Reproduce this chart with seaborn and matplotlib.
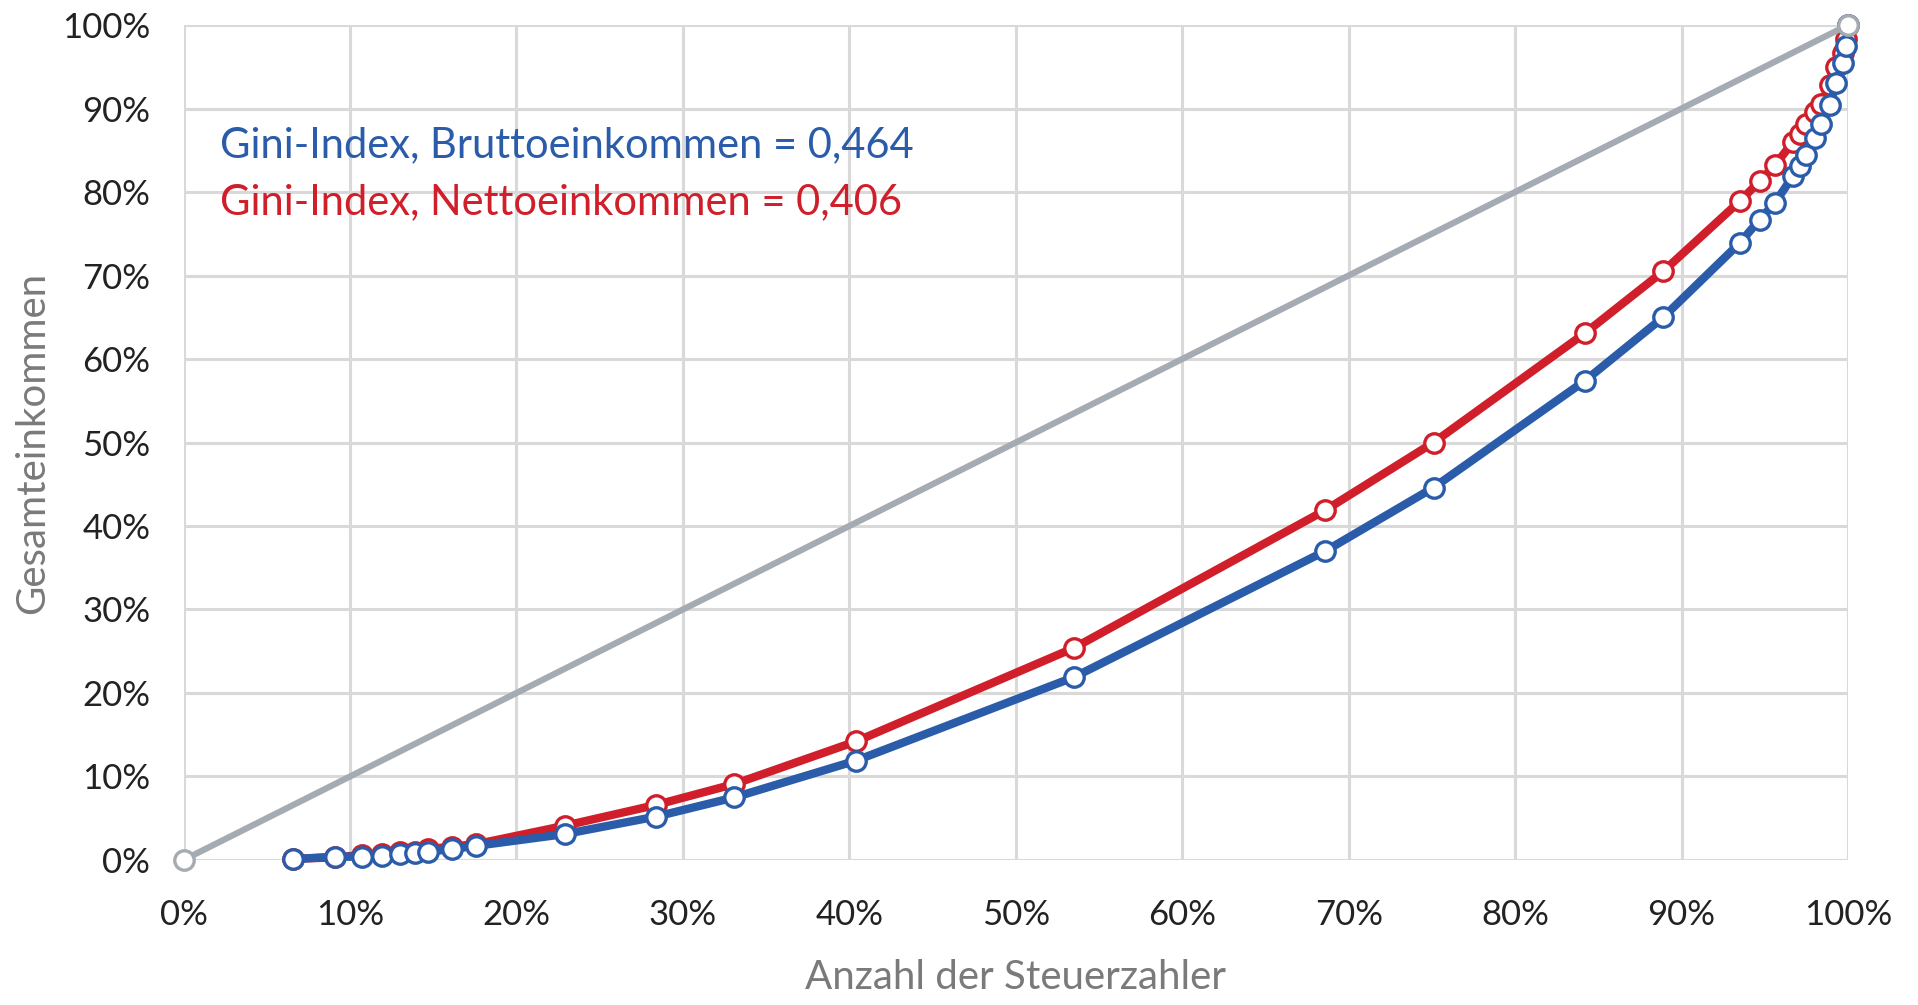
import numpy as np
import seaborn as sns
import pandas as pd
import matplotlib.pyplot as plt
import matplotlib.ticker as ticker

# Lorenzkurve: Anteil der Steuerzahler (%) und kumulierter Einkommensanteil (%)
steuerzahler = [6.6, 9.1, 10.7, 11.9, 13.0, 13.9, 14.7, 16.1, 17.6, 22.9, 28.4, 33.1,
                40.4, 53.5, 68.6, 75.1, 84.2, 88.9, 93.5, 94.7, 95.6, 96.7, 97.1, 97.5,
                98.0, 98.4, 98.9, 99.3, 99.7, 99.9, 100.0]
brutto = [0.1, 0.4, 0.4, 0.5, 0.7, 0.8, 1.0, 1.3, 1.7, 3.1, 5.2, 7.5,
          11.9, 21.9, 37.0, 44.6, 57.4, 65.0, 73.9, 76.7, 78.7, 81.9, 83.1, 84.4,
          86.5, 88.1, 90.4, 93.0, 95.5, 97.5, 100.0]
netto = [0.15, 0.3, 0.6, 0.7, 0.9, 1.0, 1.3, 1.6, 1.9, 4.1, 6.6, 9.1,
         14.2, 25.4, 41.9, 50.0, 63.1, 70.5, 78.9, 81.3, 83.2, 86.0, 86.9, 88.1,
         89.6, 90.5, 92.8, 95.0, 96.7, 98.3, 100.0]
gleich_x = [0, 100]
gleich_y = [0, 100]

gini_brutto = '0,464'
gini_netto = '0,406'

blau = '#2A5CAA'
rot = '#D01F2A'
grau = '#A5ABB3'

sns.set_theme(style='white')
plt.rcParams['font.family'] = ['Lato', 'DejaVu Sans']

df = pd.DataFrame({'Steuerzahler': steuerzahler, 'Brutto': brutto, 'Netto': netto})
df_gleich = pd.DataFrame({'x': gleich_x, 'y': gleich_y})

fig = plt.figure(figsize=(19.18, 10.05), dpi=100)
ax = fig.add_axes([0.0957, 0.1443, 0.8678, 0.8308])

mk = dict(marker='o', markersize=14, markerfacecolor='white', markeredgewidth=2.4, clip_on=False)

sns.lineplot(data=df, x='Steuerzahler', y='Netto', sort=False, color=rot, linewidth=6,
             markeredgecolor=rot, zorder=3, ax=ax, **mk)
sns.lineplot(data=df, x='Steuerzahler', y='Brutto', sort=False, color=blau, linewidth=6,
             markeredgecolor=blau, zorder=4, ax=ax, **mk)
sns.lineplot(data=df_gleich, x='x', y='y', sort=False, color=grau, linewidth=4.5,
             markeredgecolor=grau, zorder=5, ax=ax, **mk)

ax.set_xlim(0, 100)
ax.set_ylim(0, 100)
ax.xaxis.set_major_locator(ticker.MultipleLocator(10))
ax.yaxis.set_major_locator(ticker.MultipleLocator(10))
ax.xaxis.set_major_formatter(ticker.FuncFormatter(lambda v, p: f'{v:.0f}%'))
ax.yaxis.set_major_formatter(ticker.FuncFormatter(lambda v, p: f'{v:.0f}%'))
ax.grid(True, color='#D9D9D9', linewidth=2.2)
ax.set_axisbelow(True)
for s in ax.spines.values():
    s.set_visible(False)
ax.tick_params(axis='both', length=0, labelsize=25, colors='#222222')
ax.tick_params(axis='x', pad=28)
ax.tick_params(axis='y', pad=24)

ax.set_xlabel('Anzahl der Steuerzahler', fontsize=29, color='#7a7a7a', labelpad=20)
ax.set_ylabel('Gesamteinkommen', fontsize=29, color='#7a7a7a', labelpad=8)

ax.text(2.2, 85.6, f'Gini-Index, Bruttoeinkommen = {gini_brutto}', color=blau, fontsize=30,
        va='center', ha='left')
ax.text(2.2, 78.8, f'Gini-Index, Nettoeinkommen = {gini_netto}', color=rot, fontsize=30,
        va='center', ha='left')

plt.savefig('out.png', dpi=100)
